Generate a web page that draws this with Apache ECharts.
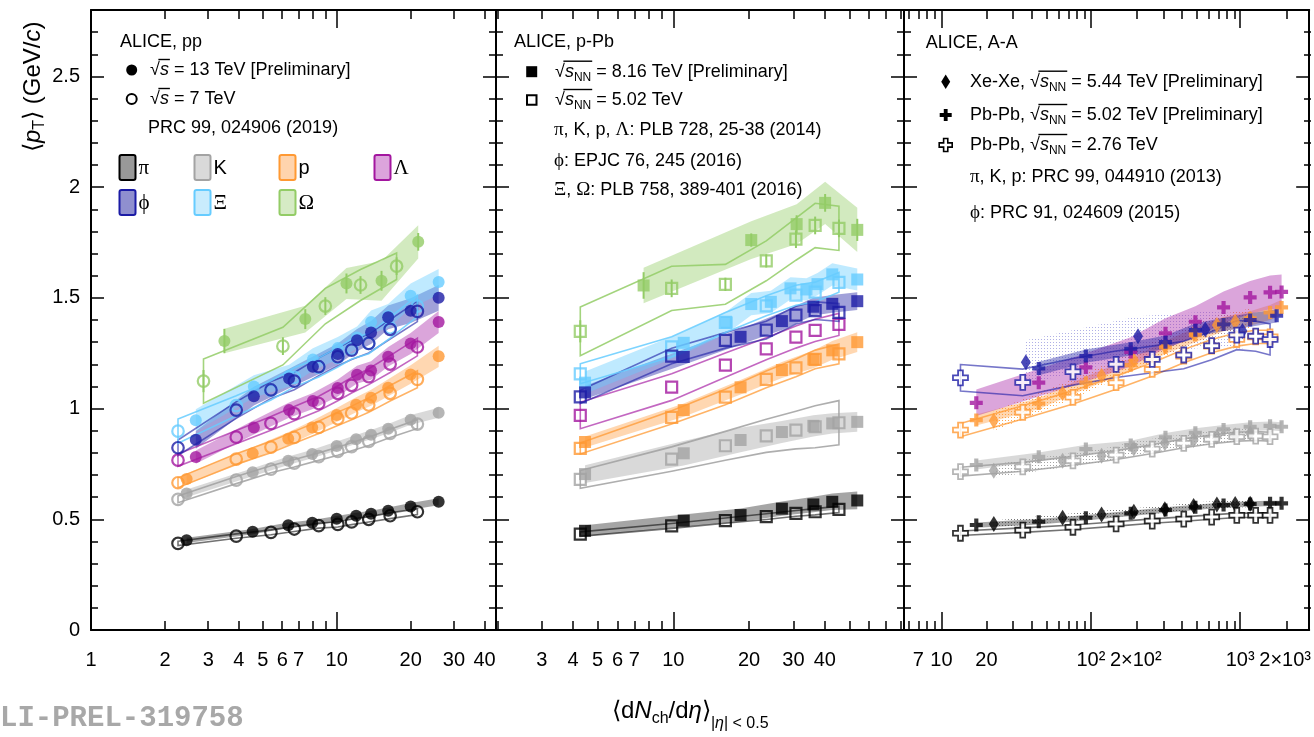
<!DOCTYPE html>
<html><head><meta charset="utf-8">
<script src="https://cdn.jsdelivr.net/npm/echarts@6/dist/echarts.min.js"></script>
<style>html,body{margin:0;padding:0;background:#fff;}#c{width:1314px;height:737px;}</style>
</head><body><div id="c"></div>
<script>
// ===================== DATA =====================
// ---- pp (panel 1) : x = <dNch/deta>, y = <pT> (GeV/c)
const ppX13  = [2.45, 4.55, 6.35, 7.95, 10.0, 12.0, 13.8, 16.2, 20.0, 26.0];
const ppX13s = [2.67, 4.6, 6.4, 8.0, 10.1, 12.1, 13.8, 16.2, 20.0, 26.0];
const ppX7   = [2.26, 3.90, 5.40, 6.72, 8.45, 10.1, 11.5, 13.5, 16.5, 21.3];
const ppXom13 = [3.49, 7.45, 10.96, 15.22, 21.47];
const ppXom7  = [2.87, 6.04, 8.99, 12.5, 17.53];

const ppPi13 = [0.405, 0.444, 0.473, 0.484, 0.502, 0.516, 0.525, 0.539, 0.558, 0.579];
const ppPi7  = [0.391, 0.424, 0.441, 0.456, 0.471, 0.477, 0.488, 0.500, 0.516, 0.534];
const ppK13  = [0.617, 0.712, 0.764, 0.795, 0.831, 0.861, 0.882, 0.909, 0.949, 0.981];
const ppK7   = [0.590, 0.677, 0.726, 0.753, 0.783, 0.807, 0.828, 0.852, 0.888, 0.930];
const ppP13  = [0.682, 0.798, 0.864, 0.915, 0.971, 1.017, 1.049, 1.094, 1.154, 1.236];
const ppP7   = [0.665, 0.772, 0.826, 0.870, 0.915, 0.954, 0.980, 1.016, 1.069, 1.132];
const ppLam13 = [0.781, 0.915, 0.993, 1.034, 1.093, 1.153, 1.172, 1.234, 1.294, 1.391];
const ppLam7  = [0.767, 0.871, 0.933, 0.977, 1.023, 1.069, 1.105, 1.144, 1.201, 1.278];
const ppPhi13 = [0.859, 1.056, 1.136, 1.189, 1.246, 1.309, 1.344, 1.412, 1.442, 1.500];
const ppPhi7  = [0.823, 0.993, 1.084, 1.124, 1.189, 1.234, 1.264, 1.294, 1.358, 1.439];
const ppXi13  = [0.947, 1.100, 1.148, 1.222, 1.273, 1.321, 1.391, 1.418, 1.509, 1.572];
const ppXi7   = [0.898, 1.013, 1.082, 1.141, 1.186, 1.231, 1.269, 1.294, 1.365, 1.463];
const ppOm13  = [1.305, 1.404, 1.565, 1.577, 1.753];
const ppOm7   = [1.124, 1.282, 1.463, 1.558, 1.643];

// systematic uncertainties (band half-widths)
const ppPi13E = [0.012, 0.012, 0.012, 0.013, 0.013, 0.013, 0.014, 0.014, 0.015, 0.016];
const ppPi7E  = [0.010, 0.010, 0.011, 0.011, 0.011, 0.012, 0.012, 0.012, 0.013, 0.013];
const ppK13E  = [0.018, 0.018, 0.019, 0.019, 0.020, 0.020, 0.021, 0.021, 0.022, 0.023];
const ppK7E   = [0.015, 0.016, 0.016, 0.017, 0.017, 0.018, 0.018, 0.019, 0.019, 0.020];
const ppP13E  = [0.025, 0.027, 0.029, 0.030, 0.032, 0.034, 0.036, 0.038, 0.042, 0.048];
const ppP7E   = [0.022, 0.024, 0.026, 0.027, 0.028, 0.030, 0.031, 0.033, 0.035, 0.038];
const ppLam13E = [0.030, 0.032, 0.034, 0.036, 0.038, 0.040, 0.042, 0.044, 0.047, 0.050];
const ppLam7E  = [0.028, 0.030, 0.031, 0.032, 0.033, 0.034, 0.035, 0.036, 0.038, 0.040];
const ppPhi13E = [0.040, 0.042, 0.044, 0.046, 0.048, 0.050, 0.052, 0.054, 0.056, 0.058];
const ppPhi7E  = [0.035, 0.037, 0.038, 0.039, 0.040, 0.041, 0.042, 0.043, 0.044, 0.046];
const ppXi13E  = [0.050, 0.050, 0.050, 0.050, 0.050, 0.050, 0.052, 0.054, 0.056, 0.058];
const ppXi7E   = [0.055, 0.045, 0.043, 0.043, 0.043, 0.044, 0.045, 0.046, 0.047, 0.048];
const ppOm13E  = [0.055, 0.060, 0.070, 0.090, 0.075];
const ppOm7E   = [0.100, 0.085, 0.080, 0.070, 0.060];
const ppOm13S  = [0.055, 0.045, 0.045, 0.045, 0.040];
const ppOm7S   = [0.050, 0.040, 0.040, 0.040, 0.040];

// ---- p-Pb (panel 2)
const pPbX8   = [4.46, 11.0, 18.5, 27.0, 36.0, 42.8, 53.8];
const pPbX5   = [4.27, 9.85, 16.1, 23.4, 30.7, 36.6, 45.5];
const pPbXiX8 = [4.46, 11.0, 16.3, 20.4, 24.4, 29.2, 33.8, 37.4, 42.8, 53.8];
const pPbOmX8 = [7.62, 20.4, 30.9, 40.1, 53.8];

const pPbPi8  = [0.448, 0.494, 0.519, 0.548, 0.567, 0.579, 0.585];
const pPbPi5  = [0.433, 0.470, 0.494, 0.512, 0.527, 0.534, 0.545];
const pPbK8   = [0.704, 0.798, 0.858, 0.894, 0.922, 0.933, 0.940];
const pPbK5   = [0.680, 0.772, 0.832, 0.877, 0.903, 0.918, 0.936];
const pPbP8   = [0.849, 0.993, 1.096, 1.174, 1.222, 1.263, 1.300];
const pPbP5   = [0.820, 0.960, 1.052, 1.132, 1.184, 1.222, 1.247];
const pPbLam5 = [0.969, 1.097, 1.196, 1.270, 1.323, 1.353, 1.380];
const pPbPhi8 = [1.073, 1.233, 1.324, 1.395, 1.460, 1.473, 1.485];
const pPbPhi5 = [1.053, 1.237, 1.308, 1.354, 1.422, 1.442, 1.434];
const pPbXi8  = [1.117, 1.297, 1.389, 1.472, 1.482, 1.543, 1.538, 1.562, 1.606, 1.583];
const pPbXi5  = [1.157, 1.279, 1.389, 1.464, 1.512, 1.526, 1.570];
const pPbOm8  = [1.556, 1.761, 1.833, 1.929, 1.807];
const pPbOm5  = [1.349, 1.543, 1.561, 1.667, 1.765, 1.827, 1.814];

const pPbPi8E  = [0.025, 0.028, 0.030, 0.032, 0.035, 0.037, 0.040];
const pPbPi5E  = [0.010, 0.011, 0.012, 0.013, 0.013, 0.014, 0.014];
const pPbK8E   = [0.040, 0.055, 0.055, 0.050, 0.048, 0.046, 0.045];
const pPbK5E   = [0.040, 0.055, 0.065, 0.075, 0.085, 0.095, 0.100];
const pPbP8E   = [0.025, 0.030, 0.033, 0.036, 0.040, 0.042, 0.045];
const pPbP5E   = [0.025, 0.030, 0.035, 0.038, 0.040, 0.042, 0.045];
const pPbLam5E = [0.060, 0.060, 0.055, 0.050, 0.050, 0.050, 0.050];
const pPbPhi8E = [0.030, 0.035, 0.035, 0.040, 0.040, 0.040, 0.040];
const pPbPhi5E = [0.030, 0.035, 0.035, 0.040, 0.040, 0.040, 0.040];
const pPbXi8E  = [0.050, 0.050, 0.050, 0.050, 0.050, 0.050, 0.050, 0.050, 0.050, 0.050];
const pPbXi5E  = [0.045, 0.045, 0.045, 0.045, 0.045, 0.045, 0.045];
const pPbOm8E  = [0.080, 0.085, 0.090, 0.095, 0.100];
const pPbOm5E  = [0.110, 0.100, 0.090, 0.090, 0.095, 0.100, 0.100];
const pPbOm8S  = [0.060, 0.030, 0.040, 0.040, 0.050];
const pPbOm5S  = [0.050, 0.040, 0.030, 0.030, 0.040, 0.040, 0.040];

// ---- A-A (panel 3)
const pb5X  = [17.1, 44.8, 92.6, 185, 316, 501, 774, 1166, 1585, 1893];
const pb2X  = [13.4, 35.0, 75.9, 147.6, 257.7, 419, 644, 949, 1270, 1585];
const xeX   = [22.4, 64.7, 118, 194, 313, 488, 698, 926, 1166];
const phiPb5X = [44.8, 92.6, 185, 316, 501, 774, 1166, 1755];
const phiXeX  = [36.7, 207, 584, 1035];

const aaPiPb5 = [0.474, 0.489, 0.507, 0.527, 0.542, 0.554, 0.564, 0.569, 0.572, 0.572];
const aaPiPb2 = [0.437, 0.451, 0.464, 0.479, 0.492, 0.501, 0.510, 0.518, 0.518, 0.518];
const aaPiXe  = [0.479, 0.507, 0.522, 0.534, 0.545, 0.560, 0.567, 0.569, 0.570];
const aaKPb5  = [0.745, 0.782, 0.817, 0.835, 0.870, 0.891, 0.906, 0.918, 0.922, 0.918];
const aaKPb2  = [0.715, 0.737, 0.764, 0.790, 0.817, 0.843, 0.861, 0.873, 0.876, 0.873];
const aaKXe   = [0.719, 0.764, 0.787, 0.820, 0.843, 0.858, 0.873, 0.880, 0.888];
const aaPPb5  = [0.948, 1.023, 1.117, 1.196, 1.276, 1.332, 1.381, 1.407, 1.434, 1.457];
const aaPPb2  = [0.903, 0.983, 1.051, 1.117, 1.177, 1.237, 1.282, 1.312, 1.324, 1.324];
const aaPXe   = [0.945, 1.069, 1.148, 1.219, 1.282, 1.339, 1.377, 1.392, 1.407];
const aaLamPb5 = [1.026, 1.117, 1.186, 1.256, 1.340, 1.392, 1.457, 1.502, 1.525, 1.527];
const aaPhiPb5 = [1.181, 1.237, 1.270, 1.300, 1.354, 1.380, 1.400, 1.419];
const aaPhiPb2 = [1.139, 1.118, 1.166, 1.200, 1.222, 1.242, 1.284, 1.332, 1.327, 1.312];
const aaPhiXe  = [1.209, 1.327, 1.357, 1.350];

const aaPiPb5E = [0.012, 0.012, 0.012, 0.012, 0.012, 0.012, 0.012, 0.012, 0.012, 0.012];
const aaPiPb2E = [0.010, 0.010, 0.010, 0.010, 0.010, 0.010, 0.010, 0.010, 0.010, 0.010];
const aaPiXeE  = [0.016, 0.016, 0.016, 0.016, 0.016, 0.016, 0.016, 0.016, 0.016];
const aaKPb5E  = [0.020, 0.020, 0.020, 0.020, 0.020, 0.020, 0.020, 0.020, 0.020, 0.020];
const aaKPb2E  = [0.020, 0.020, 0.020, 0.020, 0.020, 0.020, 0.020, 0.020, 0.020, 0.020];
const aaKXeE   = [0.030, 0.030, 0.030, 0.030, 0.030, 0.030, 0.030, 0.030, 0.030];
const aaPPb5E  = [0.025, 0.025, 0.028, 0.030, 0.030, 0.032, 0.032, 0.033, 0.034, 0.035];
const aaPPb2E  = [0.030, 0.030, 0.030, 0.030, 0.030, 0.030, 0.030, 0.030, 0.030, 0.030];
const aaPXeE   = [0.045, 0.045, 0.045, 0.045, 0.045, 0.045, 0.045, 0.045, 0.045];
const aaLamPb5E = [0.060, 0.062, 0.064, 0.066, 0.068, 0.070, 0.072, 0.074, 0.076, 0.078];
const aaPhiPb5E = [0.030, 0.030, 0.030, 0.030, 0.030, 0.030, 0.030, 0.030];
const aaPhiPb2E = [0.060, 0.060, 0.060, 0.060, 0.060, 0.062, 0.064, 0.066, 0.068, 0.070];
const aaPhiXeE  = [0.100, 0.090, 0.080, 0.080];

// ---- axis tick values and labels
const yMajor = [0, 0.5, 1, 1.5, 2, 2.5];
const yMinor = [0.1,0.2,0.3,0.4,0.6,0.7,0.8,0.9,1.1,1.2,1.3,1.4,1.6,1.7,1.8,1.9,2.1,2.2,2.3,2.4,2.6,2.7];
const x1Major = [10];
const x1Minor = [2,3,4,5,6,7,8,9,20,30,40];
const x1Labels = [1,2,3,4,5,6,7,10,20,30,40];
const x2Major = [10];
const x2Minor = [2,3,4,5,6,7,8,9,20,30,40,50,60,70,80];
const x2Labels = [3,4,5,6,7,10,20,30,40];
const x3Major = [10,100,1000];
const x3Minor = [6,7,8,9,20,30,40,50,60,70,80,90,200,300,400,500,600,700,800,900,2000];
const x3Labels = [7,10,20,100,200,1000,2000];
const x3LabelText = {100:'10\u00b2', 200:'2\u00d710\u00b2', 1000:'10\u00b3', 2000:'2\u00d710\u00b3'};

// ===================== STYLE =====================
const FONT = '"Liberation Sans", Arial, Helvetica, sans-serif';
const SERIF = '"Liberation Serif", "Times New Roman", serif';
const COL  = {pi:'#000000', k:'#a3a3a3', p:'#ff9933', lam:'#a3169f', phi:'#1b1ba5', xi:'#66ccff', om:'#93cc66'};
const FILL = {pi:'rgba(40,40,40,0.42)', k:'rgba(170,170,170,0.45)', p:'rgba(255,150,50,0.38)', lam:'rgba(170,40,170,0.42)', phi:'rgba(30,30,165,0.42)', xi:'rgba(102,204,255,0.42)', om:'rgba(147,204,102,0.42)'};
const LINE = {pi:'rgba(0,0,0,0.55)', k:'rgba(160,160,160,0.85)', p:'rgba(255,153,51,0.75)', lam:'rgba(163,22,159,0.65)', phi:'rgba(27,27,165,0.6)', xi:'rgba(102,204,255,0.85)', om:'rgba(147,204,102,0.85)'};
const SWF  = {pi:'#999999', k:'#d9d9d9', p:'#ffd4ad', lam:'#dca4dc', phi:'#8f8fcf', xi:'#c9ecfd', om:'#d6ebc5'};
const PLUS = 'path://M34,0H66V34H100V66H66V100H34V66H0V34H34Z';

function dots(color) {
  const c = document.createElement('canvas'); c.width = 3; c.height = 3;
  const x = c.getContext('2d'); x.fillStyle = color;
  x.fillRect(0, 0, 1, 1);
  return {image: c, repeat: 'repeat'};
}

// ===================== SERIES =====================
const S = [];
function poly(g, xs, ys, es, style, z) {
  S.push({type:'custom', xAxisIndex:2*g, yAxisIndex:2*g, z:z, silent:true,
    data: xs.map((x,i)=>[x, ys[i]]),
    renderItem: function(p, api){
      if (p.dataIndex !== 0) return null;
      const up = xs.map((x,i)=>api.coord([x, ys[i]+es[i]]));
      const lo = xs.map((x,i)=>api.coord([x, ys[i]-es[i]])).reverse();
      return {type:'polygon', shape:{points: up.concat(lo)}, style: style};
    }});
}
function band(g, xs, ys, es, fill) { poly(g, xs, ys, es, {fill: fill, stroke: null}, 1); }
function outline(g, xs, ys, es, col) { poly(g, xs, ys, es, {fill: 'none', stroke: col, lineWidth: 1.6}, 2); }
function bars(g, xs, ys, es, col) {
  S.push({type:'custom', xAxisIndex:2*g, yAxisIndex:2*g, z:3, silent:true,
    data: xs.map((x,i)=>[x, ys[i], es[i]]),
    renderItem: function(p, api){
      const a = api.coord([api.value(0), api.value(1)-api.value(2)]);
      const b = api.coord([api.value(0), api.value(1)+api.value(2)]);
      return {type:'line', shape:{x1:a[0], y1:a[1], x2:b[0], y2:b[1]}, style:{stroke: col, lineWidth: 2}};
    }});
}
function pts(g, xs, ys, col, kind) {
  const s = {type:'scatter', xAxisIndex:2*g, yAxisIndex:2*g, z:5, silent:true,
    data: xs.map((x,i)=>[x, ys[i]]), symbolKeepAspect:true};
  const open = {color:'rgba(255,255,255,0)', borderColor: col, borderWidth: 2.2};
  if (kind==='fc') { s.symbol='circle'; s.symbolSize=12; s.itemStyle={color:col}; }
  if (kind==='oc') { s.symbol='circle'; s.symbolSize=11.5; s.itemStyle=open; }
  if (kind==='fs') { s.symbol='rect'; s.symbolSize=12; s.itemStyle={color:col}; }
  if (kind==='os') { s.symbol='rect'; s.symbolSize=11; s.itemStyle=open; }
  if (kind==='fd') { s.symbol='diamond'; s.symbolSize=[10,16]; s.itemStyle={color:col}; }
  if (kind==='fx') { s.symbol=PLUS; s.symbolSize=13; s.itemStyle={color:col}; }
  if (kind==='ox') { s.symbol=PLUS; s.symbolSize=15; s.itemStyle={color:'#ffffff', borderColor:col, borderWidth:1.8}; }
  S.push(s);
}

// panel 1: pp
band(0, ppX13, ppPi13, ppPi13E, FILL.pi);
band(0, ppX13, ppK13, ppK13E, FILL.k);
band(0, ppX13, ppP13, ppP13E, FILL.p);
band(0, ppX13s, ppLam13, ppLam13E, FILL.lam);
band(0, ppX13s, ppPhi13, ppPhi13E, FILL.phi);
band(0, ppX13s, ppXi13, ppXi13E, FILL.xi);
band(0, ppXom13, ppOm13, ppOm13E, FILL.om);
outline(0, ppX7, ppPi7, ppPi7E, LINE.pi);
outline(0, ppX7, ppK7, ppK7E, LINE.k);
outline(0, ppX7, ppP7, ppP7E, LINE.p);
outline(0, ppX7, ppLam7, ppLam7E, LINE.lam);
outline(0, ppX7, ppPhi7, ppPhi7E, LINE.phi);
outline(0, ppX7, ppXi7, ppXi7E, LINE.xi);
outline(0, ppXom7, ppOm7, ppOm7E, LINE.om);
bars(0, ppXom13, ppOm13, ppOm13S, COL.om);
bars(0, ppXom7, ppOm7, ppOm7S, COL.om);
pts(0, ppX7, ppPi7, COL.pi, 'oc');  pts(0, ppX13, ppPi13, COL.pi, 'fc');
pts(0, ppX7, ppK7, COL.k, 'oc');    pts(0, ppX13, ppK13, COL.k, 'fc');
pts(0, ppX7, ppP7, COL.p, 'oc');    pts(0, ppX13, ppP13, COL.p, 'fc');
pts(0, ppX7, ppLam7, COL.lam, 'oc'); pts(0, ppX13s, ppLam13, COL.lam, 'fc');
pts(0, ppX7, ppXi7, COL.xi, 'oc');  pts(0, ppX13s, ppXi13, COL.xi, 'fc');
pts(0, ppX7, ppPhi7, COL.phi, 'oc'); pts(0, ppX13s, ppPhi13, COL.phi, 'fc');
pts(0, ppXom7, ppOm7, COL.om, 'oc'); pts(0, ppXom13, ppOm13, COL.om, 'fc');

// panel 2: p-Pb
band(1, pPbX8, pPbPi8, pPbPi8E, FILL.pi);
band(1, pPbX8, pPbK8, pPbK8E, FILL.k);
band(1, pPbX8, pPbP8, pPbP8E, FILL.p);
band(1, pPbX8, pPbPhi8, pPbPhi8E, FILL.phi);
band(1, pPbXiX8, pPbXi8, pPbXi8E, FILL.xi);
band(1, pPbOmX8, pPbOm8, pPbOm8E, FILL.om);
outline(1, pPbX5, pPbPi5, pPbPi5E, LINE.pi);
outline(1, pPbX5, pPbK5, pPbK5E, LINE.k);
outline(1, pPbX5, pPbP5, pPbP5E, LINE.p);
outline(1, pPbX5, pPbLam5, pPbLam5E, LINE.lam);
outline(1, pPbX5, pPbPhi5, pPbPhi5E, LINE.phi);
outline(1, pPbX5, pPbXi5, pPbXi5E, LINE.xi);
outline(1, pPbX5, pPbOm5, pPbOm5E, LINE.om);
bars(1, pPbOmX8, pPbOm8, pPbOm8S, COL.om);
bars(1, pPbX5, pPbOm5, pPbOm5S, COL.om);
pts(1, pPbX5, pPbPi5, COL.pi, 'os');  pts(1, pPbX8, pPbPi8, COL.pi, 'fs');
pts(1, pPbX5, pPbK5, COL.k, 'os');    pts(1, pPbX8, pPbK8, COL.k, 'fs');
pts(1, pPbX5, pPbP5, COL.p, 'os');    pts(1, pPbX8, pPbP8, COL.p, 'fs');
pts(1, pPbX5, pPbLam5, COL.lam, 'os');
pts(1, pPbX5, pPbXi5, COL.xi, 'os');  pts(1, pPbXiX8, pPbXi8, COL.xi, 'fs');
pts(1, pPbX5, pPbPhi5, COL.phi, 'os'); pts(1, pPbX8, pPbPhi8, COL.phi, 'fs');
pts(1, pPbX5, pPbOm5, COL.om, 'os');  pts(1, pPbOmX8, pPbOm8, COL.om, 'fs');

// panel 3: A-A
band(2, xeX, aaPiXe, aaPiXeE, dots('rgba(60,60,60,0.7)'));
band(2, xeX, aaKXe, aaKXeE, dots('rgba(150,150,150,0.85)'));
band(2, xeX, aaPXe, aaPXeE, dots('rgba(255,153,51,0.85)'));
band(2, phiXeX, aaPhiXe, aaPhiXeE, dots('rgba(80,80,200,0.45)'));
band(2, pb5X, aaPiPb5, aaPiPb5E, FILL.pi);
band(2, pb5X, aaKPb5, aaKPb5E, FILL.k);
band(2, pb5X, aaPPb5, aaPPb5E, FILL.p);
band(2, pb5X, aaLamPb5, aaLamPb5E, FILL.lam);
band(2, phiPb5X, aaPhiPb5, aaPhiPb5E, FILL.phi);
outline(2, pb2X, aaPiPb2, aaPiPb2E, LINE.pi);
outline(2, pb2X, aaKPb2, aaKPb2E, LINE.k);
outline(2, pb2X, aaPPb2, aaPPb2E, LINE.p);
outline(2, pb2X, aaPhiPb2, aaPhiPb2E, LINE.phi);
pts(2, xeX, aaPiXe, COL.pi, 'fd'); pts(2, pb5X, aaPiPb5, COL.pi, 'fx'); pts(2, pb2X, aaPiPb2, COL.pi, 'ox');
pts(2, xeX, aaKXe, COL.k, 'fd');   pts(2, pb5X, aaKPb5, COL.k, 'fx');   pts(2, pb2X, aaKPb2, COL.k, 'ox');
pts(2, xeX, aaPXe, COL.p, 'fd');   pts(2, pb5X, aaPPb5, COL.p, 'fx');   pts(2, pb2X, aaPPb2, COL.p, 'ox');
pts(2, pb5X, aaLamPb5, COL.lam, 'fx');
pts(2, phiXeX, aaPhiXe, COL.phi, 'fd'); pts(2, phiPb5X, aaPhiPb5, COL.phi, 'fx'); pts(2, pb2X, aaPhiPb2, COL.phi, 'ox');

// ===================== AXES =====================
const PAN = [
  {left:91,  width:405, min:1,     max:44.5, major:x1Major, minor:x1Minor, labels:x1Labels},
  {left:496, width:408, min:1.975, max:82.5, major:x2Major, minor:x2Minor, labels:x2Labels},
  {left:904, width:407, min:5.61,  max:2897, major:x3Major, minor:x3Minor, labels:x3Labels}
];
const grids = [], xAxes = [], yAxes = [];
function fmtX(v) { const r = Math.round(v); return x3LabelText[r] || String(r); }
function xa(g, pos, p, ticks, len, labels, line) {
  return {type:'log', logBase:10, gridIndex:g, position:pos, min:p.min, max:p.max,
    axisLine:{show:line, onZero:false, lineStyle:{color:'#000', width:2}},
    axisTick:{show:true, inside:true, length:len, customValues:ticks, lineStyle:{color:'#000', width:1.5}},
    axisLabel: labels ? {show:true, customValues:labels, formatter:fmtX, margin:20, color:'#000', fontSize:20, fontFamily:FONT} : {show:false},
    splitLine:{show:false}, minorTick:{show:false}, minorSplitLine:{show:false}};
}
function ya(g, pos, ticks, len, labels, line) {
  return {type:'value', gridIndex:g, position:pos, min:0, max:2.8,
    axisLine:{show:line, onZero:false, lineStyle:{color:'#000', width:2}},
    axisTick:{show:true, inside:true, length:len, customValues:ticks, lineStyle:{color:'#000', width:1.5}},
    axisLabel: labels ? {show:true, customValues:labels, formatter:(v)=>String(v), margin:11, color:'#000', fontSize:20, fontFamily:FONT} : {show:false},
    splitLine:{show:false}};
}
PAN.forEach((p,i)=>{ grids.push({left:p.left, width:p.width, top:10, height:620}); });
PAN.forEach((p,i)=>{ grids.push({left:p.left, width:p.width, top:10, height:620}); });
PAN.forEach((p,g)=>{
  xAxes.push(xa(g, 'bottom', p, p.major, 18, p.labels, true));
  xAxes.push(xa(g, 'top', p, p.major, 18, null, true));
  yAxes.push(ya(g, 'left', yMajor, 13, g===0 ? yMajor : null, true));
  yAxes.push(ya(g, 'right', yMajor, 13, null, true));
});
PAN.forEach((p,g)=>{
  xAxes.push(xa(g+3, 'bottom', p, p.minor, 9, null, false));
  xAxes.push(xa(g+3, 'top', p, p.minor, 9, null, false));
  yAxes.push(ya(g+3, 'left', yMinor, 7, null, false));
  yAxes.push(ya(g+3, 'right', yMinor, 7, null, false));
});

// ===================== TEXT / LEGEND GRAPHICS =====================
const mctx = document.createElement('canvas').getContext('2d');
const G = [];
function T(x, y, text, font, fill) {
  return {type:'text', x:x, y:y, silent:true, z:10,
    style:{text:text, font:font, fill:fill||'#000', align:'left', verticalAlign:'middle', textAlign:'left', textVerticalAlign:'middle'}};
}
// pieces: [text, size, italic, dy, overline, family]
function run(x, y, pieces, out) {
  let cx = x, o0 = null, o1 = null;
  pieces.forEach(pc => {
    const [t, size, it, dy, over, fam] = pc;
    const font = (it ? 'italic ' : '') + size + 'px ' + (fam || FONT);
    mctx.font = font;
    const w = mctx.measureText(t).width;
    out.push(T(cx, y + (dy||0), t, font));
    if (over) { if (o0 === null) o0 = cx; o1 = cx + w; }
    cx += w;
  });
  if (o0 !== null) out.push({type:'line', silent:true, z:10, shape:{x1:o0-1.5, y1:y-10.5, x2:o1+1, y2:y-10.5}, style:{stroke:'#000', lineWidth:1.4}});
  return cx;
}
function sq() {
  return [['\u221a', 18], ['s', 18, true, 0, true]];
}
function sqNN(prefix, rest) {
  const a = [];
  if (prefix) a.push([prefix, 18]);
  a.push(['\u221a', 18], ['s', 18, true, 0, true], ['NN', 12, false, 6, true], [rest, 18]);
  return a;
}
function plusPts(cx, cy, s) {
  const h = s/2, t = s*0.16;
  return [[cx-t,cy-h],[cx+t,cy-h],[cx+t,cy-t],[cx+h,cy-t],[cx+h,cy+t],[cx+t,cy+t],[cx+t,cy+h],[cx-t,cy+h],[cx-t,cy+t],[cx-h,cy+t],[cx-h,cy-t],[cx-t,cy-t]];
}
const PHI = '\u03d5';
// panel 1 legend
G.push(T(120, 42, 'ALICE, pp', '18px ' + FONT));
G.push({type:'circle', silent:true, z:10, shape:{cx:131.7, cy:70, r:5.5}, style:{fill:'#000'}});
run(150, 70, sq().concat([[' = 13 TeV [Preliminary]', 18]]), G);
G.push({type:'circle', silent:true, z:10, shape:{cx:131.7, cy:99, r:5}, style:{fill:'none', stroke:'#000', lineWidth:2}});
run(150, 99, sq().concat([[' = 7 TeV', 18]]), G);
G.push(T(148, 128, 'PRC 99, 024906 (2019)', '18px ' + FONT));
const sw = [
  ['pi', 119.5, 155, '\u03c0', true], ['k', 194.5, 155, 'K', false], ['p', 279.5, 155, 'p', false], ['lam', 374.5, 155, '\u039b', true],
  ['phi', 119.5, 190, PHI, true], ['xi', 194.5, 190, '\u039e', true], ['om', 279.5, 190, '\u03a9', true]
];
sw.forEach(s => {
  G.push({type:'rect', silent:true, z:10, shape:{x:s[1], y:s[2], width:16, height:25, r:2}, style:{fill:SWF[s[0]], stroke:COL[s[0]], lineWidth:2}});
  G.push(T(s[1]+19, s[2]+13.5, s[3], (s[4] ? '21px ' + SERIF : '20px ' + FONT)));
});
// panel 2 legend
G.push(T(514, 42, 'ALICE, p-Pb', '18px ' + FONT));
G.push({type:'rect', silent:true, z:10, shape:{x:526.2, y:66.2, width:11, height:11}, style:{fill:'#000'}});
run(555, 71.7, sqNN(null, ' = 8.16 TeV [Preliminary]'), G);
G.push({type:'rect', silent:true, z:10, shape:{x:527, y:95.3, width:9.5, height:9.5}, style:{fill:'none', stroke:'#000', lineWidth:2}});
run(555, 100, sqNN(null, ' = 5.02 TeV'), G);
run(554, 130, [['\u03c0', 19, false, 0, false, SERIF], [', K, p, ', 18], ['\u039b', 19, false, 0, false, SERIF], [': PLB 728, 25-38 (2014)', 18]], G);
run(554, 161, [[PHI, 19, false, 0, false, SERIF], [': EPJC 76, 245 (2016)', 18]], G);
run(554, 190, [['\u039e', 19, false, 0, false, SERIF], [', ', 18], ['\u03a9', 19, false, 0, false, SERIF], [': PLB 758, 389-401 (2016)', 18]], G);
// panel 3 legend
G.push(T(925.7, 43, 'ALICE, A-A', '18px ' + FONT));
G.push({type:'polygon', silent:true, z:10, shape:{points:[[945.7,74.5],[950.2,81.7],[945.7,89],[941.2,81.7]]}, style:{fill:'#000'}});
run(970, 81.7, sqNN('Xe-Xe, ', ' = 5.44 TeV [Preliminary]'), G);
G.push({type:'polygon', silent:true, z:10, shape:{points:plusPts(945.7, 115, 12)}, style:{fill:'#000'}});
run(970, 115, sqNN('Pb-Pb, ', ' = 5.02 TeV [Preliminary]'), G);
G.push({type:'polygon', silent:true, z:10, shape:{points:plusPts(945.7, 145, 13)}, style:{fill:'#fff', stroke:'#000', lineWidth:1.6}});
run(970, 145, sqNN('Pb-Pb, ', ' = 2.76 TeV'), G);
run(970, 177, [['\u03c0', 19, false, 0, false, SERIF], [', K, p: PRC 99, 044910 (2013)', 18]], G);
run(970, 213, [[PHI, 19, false, 0, false, SERIF], [': PRC 91, 024609 (2015)', 18]], G);

// axis titles
const ytitle = [];
run(0, 0, [['\u27e8', 24], ['p', 24, true], ['T', 16, false, 7], ['\u27e9', 24], [' (GeV/', 24], ['c', 24, true], [')', 24]], ytitle);
G.push({type:'group', x:33, y:152, rotation:Math.PI/2, children:ytitle});
run(612, 711, [['\u27e8', 24], ['d', 24], ['N', 24, true], ['ch', 16, false, 8], ['/d', 24], ['\u03b7', 24, true], ['\u27e9', 24],
               ['|', 16, false, 13], ['\u03b7', 16, true, 13], ['| < 0.5', 16, false, 13]], G);
// watermark
G.push(T(-17.4, 719, 'ALI-PREL-319758', 'bold 29px "Liberation Mono", "DejaVu Sans Mono", monospace', '#a8a8a8'));

// ===================== CHART =====================
const chart = echarts.init(document.getElementById('c'), null, {renderer:'canvas'});
chart.setOption({
  animation:false,
  backgroundColor:'#ffffff',
  grid: grids,
  xAxis: xAxes,
  yAxis: yAxes,
  series: S,
  graphic: {elements: G}
});
</script></body></html>
